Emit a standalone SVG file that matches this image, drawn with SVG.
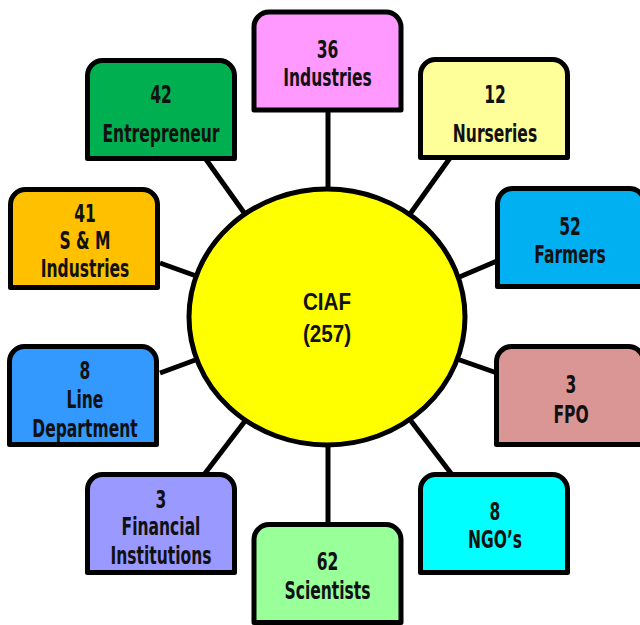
<svg xmlns="http://www.w3.org/2000/svg" width="640" height="625" viewBox="0 0 640 625">
  <style>
    .box { stroke: #000; stroke-width: 5; stroke-linejoin: round; }
    .lbl { font-family: "DejaVu Sans Condensed", "DejaVu Sans", sans-serif; font-weight: bold; font-size: 24px; fill: #111; text-anchor: middle; }
    .hub { font-family: "Liberation Sans", Arial, sans-serif; font-weight: bold; font-size: 24px; fill: #111; text-anchor: middle; }
    .wire { stroke: #000; stroke-width: 5; fill: none; }
  </style>
  <defs>
    <!-- card: rounded top corners, square bottom corners; 147 x 98 -->
    <path id="card" d="M0,98 V15 A15,15 0 0 1 15,0 H132 A15,15 0 0 1 147,15 V98 Z"/>
  </defs>
  <rect width="640" height="625" fill="#fff"/>

  <g id="connectors">
    <line class="wire" x1="328" y1="110" x2="328" y2="190"/>
    <line class="wire" x1="328" y1="444" x2="328" y2="525"/>
    <line class="wire" x1="205" y1="158" x2="245" y2="214"/>
    <line class="wire" x1="450" y1="158" x2="410" y2="214"/>
    <line class="wire" x1="160" y1="263" x2="199" y2="277"/>
    <line class="wire" x1="497" y1="261" x2="457" y2="278"/>
    <line class="wire" x1="160" y1="373" x2="198" y2="359"/>
    <line class="wire" x1="497" y1="373" x2="457" y2="359"/>
    <line class="wire" x1="245" y1="421" x2="203" y2="476"/>
    <line class="wire" x1="411" y1="421" x2="453" y2="476"/>
  </g>

  <g id="ciaf">
    <ellipse cx="327" cy="317" rx="138" ry="128" fill="#ffff00" stroke="#000" stroke-width="5"/>
    <text class="hub" transform="translate(327,310) scale(0.86,1)">CIAF</text>
    <text class="hub" transform="translate(327,342) scale(0.86,1)">(257)</text>
  </g>

  <g id="industries">
    <use href="#card" x="254" y="12" class="box" fill="#ff99ff"/>
    <text class="lbl" transform="translate(327.5,58) scale(0.72,1)">36</text>
    <text class="lbl" transform="translate(327.5,86) scale(0.72,1)">Industries</text>
  </g>

  <g id="entrepreneur">
    <use href="#card" x="87.5" y="60.5" class="box" fill="#00b050"/>
    <text class="lbl" transform="translate(161,103) scale(0.72,1)">42</text>
    <text class="lbl" transform="translate(161,142) scale(0.72,1)">Entrepreneur</text>
  </g>

  <g id="nurseries">
    <use href="#card" x="420.5" y="59.5" class="box" fill="#ffff99"/>
    <text class="lbl" transform="translate(495,103) scale(0.72,1)">12</text>
    <text class="lbl" transform="translate(495,142) scale(0.72,1)">Nurseries</text>
  </g>

  <g id="sm-industries">
    <use href="#card" x="10.5" y="189.5" class="box" fill="#ffc000"/>
    <text class="lbl" transform="translate(85,222) scale(0.72,1)">41</text>
    <text class="lbl" transform="translate(85,249) scale(0.72,1)">S &amp; M</text>
    <text class="lbl" transform="translate(85,277) scale(0.72,1)">Industries</text>
  </g>

  <g id="farmers">
    <use href="#card" x="497.5" y="188.5" class="box" fill="#00b0f0"/>
    <text class="lbl" transform="translate(570,235) scale(0.72,1)">52</text>
    <text class="lbl" transform="translate(570,263) scale(0.72,1)">Farmers</text>
  </g>

  <g id="line-department">
    <use href="#card" x="9.5" y="346.5" class="box" fill="#3399ff"/>
    <text class="lbl" transform="translate(85,379) scale(0.72,1)">8</text>
    <text class="lbl" transform="translate(85,408) scale(0.72,1)">Line</text>
    <text class="lbl" transform="translate(85,437) scale(0.72,1)">Department</text>
  </g>

  <g id="fpo">
    <use href="#card" x="496.5" y="346.5" class="box" fill="#da9694"/>
    <text class="lbl" transform="translate(571,393) scale(0.72,1)">3</text>
    <text class="lbl" transform="translate(571,423) scale(0.72,1)">FPO</text>
  </g>

  <g id="financial-institutions">
    <use href="#card" x="87.5" y="474.5" class="box" fill="#9999ff"/>
    <text class="lbl" transform="translate(161,508) scale(0.72,1)">3</text>
    <text class="lbl" transform="translate(161,535) scale(0.72,1)">Financial</text>
    <text class="lbl" transform="translate(161,564) scale(0.72,1)">Institutions</text>
  </g>

  <g id="ngos">
    <use href="#card" x="420.5" y="474.5" class="box" fill="#00ffff"/>
    <text class="lbl" transform="translate(495,520) scale(0.72,1)">8</text>
    <text class="lbl" transform="translate(495,548) scale(0.72,1)">NGO’s</text>
  </g>

  <g id="scientists">
    <use href="#card" x="254" y="524.5" class="box" fill="#99ff99"/>
    <text class="lbl" transform="translate(327.5,570) scale(0.72,1)">62</text>
    <text class="lbl" transform="translate(327.5,599) scale(0.72,1)">Scientists</text>
  </g>
</svg>
